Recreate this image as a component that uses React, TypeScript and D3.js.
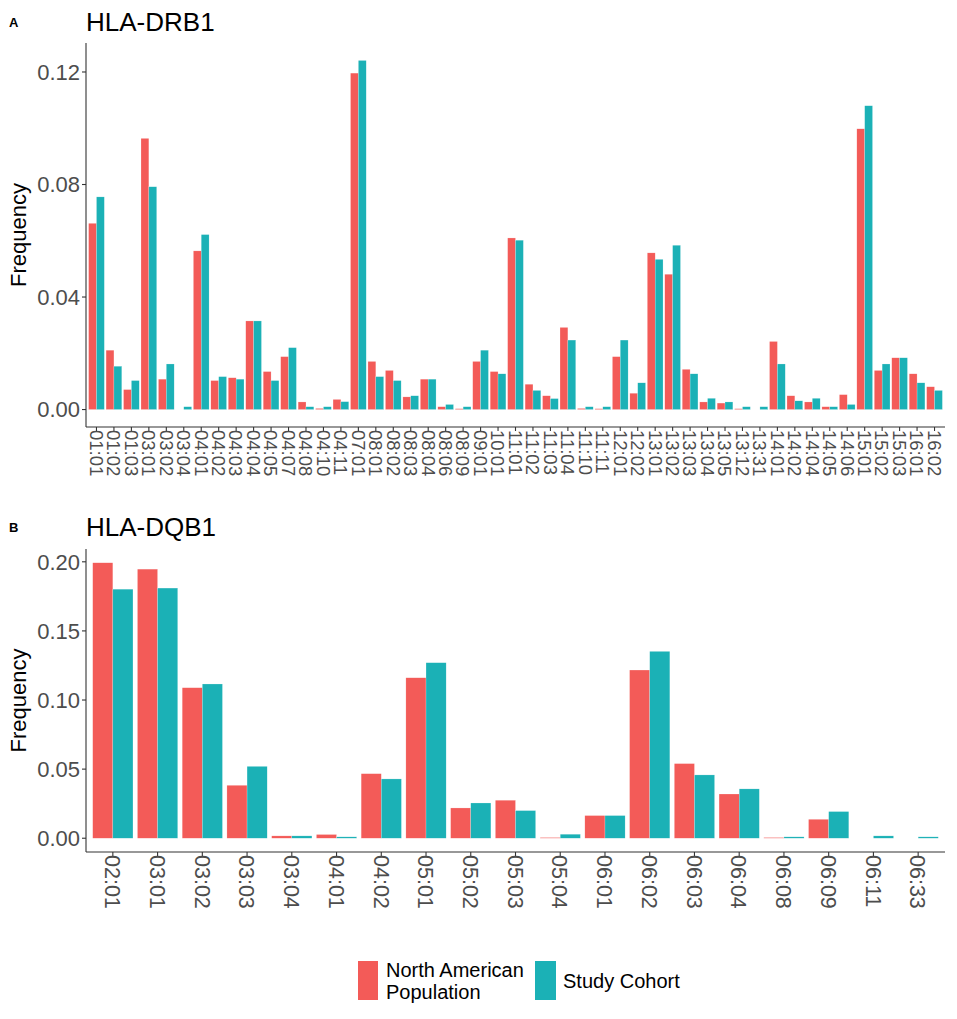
import * as d3 from "d3";

const drbCats = [
  "01:01", "01:02", "01:03", "03:01", "03:02", "03:04", "04:01", "04:02", "04:03", "04:04",
  "04:05", "04:07", "04:08", "04:10", "04:11", "07:01", "08:01", "08:02", "08:03", "08:04",
  "08:06", "08:09", "09:01", "10:01", "11:01", "11:02", "11:03", "11:04", "11:10", "11:11",
  "12:01", "12:02", "13:01", "13:02", "13:03", "13:04", "13:05", "13:12", "13:31", "14:01",
  "14:02", "14:04", "14:05", "14:06", "15:01", "15:02", "15:03", "16:01", "16:02",
];
const drbNorthAmerican = [
  0.0662, 0.0211, 0.0071, 0.0964, 0.0108, 0, 0.0564, 0.0103, 0.0113, 0.0315,
  0.0135, 0.0188, 0.0027, 0.0004, 0.0036, 0.1196, 0.0171, 0.0139, 0.0045, 0.0108,
  0.001, 0.0003, 0.0171, 0.0135, 0.061, 0.009, 0.0049, 0.0292, 0.0004, 0.0003,
  0.0188, 0.0058, 0.0557, 0.0481, 0.0143, 0.0027, 0.0023, 0.0003, 0, 0.0242,
  0.0049, 0.0027, 0.001, 0.0053, 0.0998, 0.0139, 0.0184, 0.0127, 0.0081,
];
const drbStudy = [
  0.0756, 0.0154, 0.0103, 0.0792, 0.0162, 0.001, 0.0622, 0.0117, 0.0108, 0.0315,
  0.0103, 0.022, 0.001, 0.001, 0.0028, 0.1241, 0.0117, 0.0103, 0.0049, 0.0108,
  0.0018, 0.001, 0.0211, 0.0127, 0.0602, 0.0068, 0.0039, 0.0247, 0.001, 0.001,
  0.0247, 0.0095, 0.0534, 0.0584, 0.0127, 0.004, 0.0027, 0.001, 0.001, 0.0162,
  0.0031, 0.004, 0.001, 0.0018, 0.108, 0.0162, 0.0184, 0.0095, 0.0068,
];
const drbTicks = [0, 0.04, 0.08, 0.12];

const dqbCats = [
  "02:01", "03:01", "03:02", "03:03", "03:04", "04:01", "04:02", "05:01", "05:02", "05:03",
  "05:04", "06:01", "06:02", "06:03", "06:04", "06:08", "06:09", "06:11", "06:33",
];
const dqbNorthAmerican = [
  0.1993, 0.1947, 0.1089, 0.0383, 0.0017, 0.0027, 0.0467, 0.1161, 0.0219, 0.0275,
  0.0005, 0.0164, 0.1217, 0.054, 0.032, 0.0005, 0.0137, 0, 0,
];
const dqbStudy = [
  0.1802, 0.181, 0.1116, 0.052, 0.0017, 0.001, 0.0429, 0.127, 0.0255, 0.02,
  0.0029, 0.0164, 0.1352, 0.0458, 0.0357, 0.001, 0.0193, 0.0017, 0.001,
];
const dqbTicks = [0, 0.05, 0.1, 0.15, 0.2];

const seriesNames = ["North American Population", "Study Cohort"];
const colors = ["#f35b58", "#1bb1b6"];

const FONT = "Arial, 'Liberation Sans', Helvetica, sans-serif";
const AXIS = "#333333";

type PanelProps = {
  letter: string;
  title: string;
  cats: string[];
  a: number[];
  b: number[];
  ticks: number[];
  top: number;
  bottom: number;
  titleY: number;
  catFont: number;
};

const LEFT = 86;
const RIGHT = 945;
const fmt = d3.format(".2f");

function Panel(p: PanelProps) {
  const max = d3.max([...p.a, ...p.b]) ?? 0;
  // ggplot-style 5% expansion on both ends
  const pad = max * 0.05;
  const y = d3.scaleLinear().domain([-pad, max + pad]).range([p.bottom, p.top]);
  const x = d3
    .scaleBand<string>()
    .domain(p.cats)
    .range([LEFT, RIGHT])
    .paddingInner(0.1)
    .paddingOuter(0.15);
  const inner = d3.scaleBand<number>().domain([0, 1]).range([0, x.bandwidth()]);
  const mid = (p.top + p.bottom) / 2;

  return (
    <g>
      <text x={9} y={p.titleY - 4} fontFamily={FONT} fontWeight="bold" fontSize={13}>
        {p.letter}
      </text>
      <text x={LEFT} y={p.titleY} fontFamily={FONT} fontSize={26}>
        {p.title}
      </text>
      {p.cats.map((c, i) =>
        [p.a[i], p.b[i]].map((v, s) => (
          <rect
            key={c + s}
            x={(x(c) ?? 0) + (inner(s) ?? 0)}
            y={y(v)}
            width={inner.bandwidth()}
            height={Math.max(0, y(0) - y(v))}
            fill={colors[s]}
            stroke="#ffffff"
            strokeOpacity={0.5}
            strokeWidth={0.4}
          />
        ))
      )}
      <line x1={LEFT} x2={LEFT} y1={p.top} y2={p.bottom} stroke={AXIS} strokeWidth={1.1} />
      <line x1={LEFT} x2={RIGHT} y1={p.bottom} y2={p.bottom} stroke={AXIS} strokeWidth={1.1} />
      {p.ticks.map((t) => (
        <g key={t}>
          <line x1={LEFT - 4} x2={LEFT} y1={y(t)} y2={y(t)} stroke={AXIS} strokeWidth={1.1} />
          <text
            x={LEFT - 6}
            y={y(t)}
            dy="0.36em"
            textAnchor="end"
            fontFamily={FONT}
            fontSize={22}
            fill="#4d4d4d"
          >
            {fmt(t)}
          </text>
        </g>
      ))}
      {p.cats.map((c) => {
        const cx = (x(c) ?? 0) + x.bandwidth() / 2;
        return (
          <g key={c}>
            <line x1={cx} x2={cx} y1={p.bottom} y2={p.bottom + 4} stroke={AXIS} strokeWidth={1.1} />
            <text
              transform={`translate(${cx},${p.bottom + 3}) rotate(90)`}
              dy="0.36em"
              textAnchor="start"
              fontFamily={FONT}
              fontSize={p.catFont}
              fill="#4d4d4d"
            >
              {c}
            </text>
          </g>
        );
      })}
      <text
        transform={`translate(26,${mid}) rotate(-90)`}
        textAnchor="middle"
        fontFamily={FONT}
        fontSize={22}
      >
        Frequency
      </text>
    </g>
  );
}

export default function App() {
  return (
    <div style={{ position: "absolute", left: 0, top: 0, background: "#ffffff" }}>
      <svg width={957} height={1019} style={{ display: "block" }}>
        <rect width={957} height={1019} fill="#ffffff" />
        <Panel
          letter="A"
          title="HLA-DRB1"
          cats={drbCats}
          a={drbNorthAmerican}
          b={drbStudy}
          ticks={drbTicks}
          top={43}
          bottom={427}
          titleY={31}
          catFont={18.5}
        />
        <Panel
          letter="B"
          title="HLA-DQB1"
          cats={dqbCats}
          a={dqbNorthAmerican}
          b={dqbStudy}
          ticks={dqbTicks}
          top={549}
          bottom={852}
          titleY={536}
          catFont={21.5}
        />
        <g fontFamily={FONT} fontSize={20}>
          <rect x={358} y={961} width={20} height={39} fill={colors[0]} />
          <text x={386} y={977}>
            <tspan x={386}>North American</tspan>
            <tspan x={386} dy={22}>Population</tspan>
          </text>
          <rect x={535} y={961} width={21} height={39} fill={colors[1]} />
          <text x={563} y={988}>{seriesNames[1]}</text>
        </g>
      </svg>
    </div>
  );
}
